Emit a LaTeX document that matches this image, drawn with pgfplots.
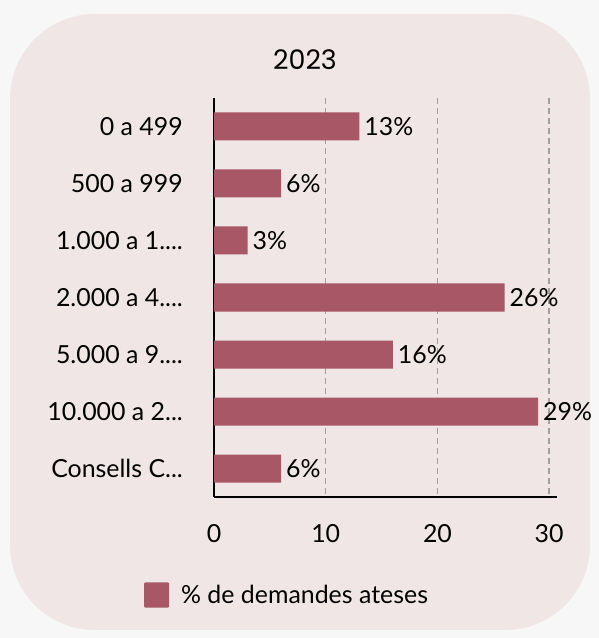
\documentclass[border=0pt]{standalone}
\usepackage{pgfplots}
\pgfplotsset{compat=1.18}
\usepackage{fontspec}
\setmainfont{Lato}
\newfontfamily\titlefont{Poppins}
\definecolor{pagebg}{HTML}{F7F7F7}
\definecolor{cardbg}{HTML}{F1E6E6}
\definecolor{barred}{HTML}{A85766}
\definecolor{gridgray}{HTML}{A0A0A0}
% dots kept out of the tick list so \foreach does not read them as a range
\newcommand\fourdots{....}
\newcommand\threedots{...}

\begin{document}
\begin{tikzpicture}[x=1bp,y=1bp]
\fill[pagebg] (0,0) rectangle (599,638);
\fill[cardbg, rounded corners=85bp] (10,8) rectangle (590,624);
\node[font=\titlefont\fontsize{27}{32}\selectfont] at (305,578) {2023};
\begin{axis}[at={(214bp,141bp)}, anchor=south west,
  scale only axis, width=343bp, height=399bp,
  xmin=0, xmax=30.7, ymin=-0.5, ymax=6.5, y dir=reverse,
  xbar, bar width=28bp, bar shift=0pt,
  axis x line=bottom, axis y line=left,
  axis line style={-, line width=1.6bp, black},
  major tick length=0pt,
  xtick={0,10,20,30}, ytick={0,1,2,3,4,5,6},
  yticklabels={0 a 499, 500 a 999, 1.000 a 1\fourdots, 2.000 a 4\fourdots, 5.000 a 9\fourdots, 10.000 a 2\threedots, Consells C\threedots},
  xmajorgrids, major grid style={gridgray, line width=1.4bp, dash pattern=on 6bp off 4bp},
  tick label style={font=\fontsize{25}{30}\selectfont},
  /pgf/number format/assume math mode=true,
  yticklabel style={inner xsep=0pt, xshift=-31bp},
  xticklabel style={yshift=-24bp},
  nodes near coords={\pgfmathprintnumber{\pgfplotspointmeta}\%},
  nodes near coords align=horizontal,
  every node near coord/.append style={font=\fontsize{25}{30}\selectfont, anchor=west, inner xsep=5bp, black},
  legend style={at={(0.21,-0.2456)}, anchor=center, draw=none, fill=none,
    font=\fontsize{25}{30}\selectfont, nodes={inner xsep=0pt}},
  legend image code/.code={\fill[barred, rounded corners=1bp] (0bp,-12.5bp) rectangle (25bp,12.5bp); \path (37bp,0bp);},
]
\addplot[fill=barred, draw=none] coordinates {(13,0) (6,1) (3,2) (26,3) (16,4) (29,5) (6,6)};
\addlegendentry{\% de demandes ateses}
\end{axis}
\end{tikzpicture}
\end{document}
